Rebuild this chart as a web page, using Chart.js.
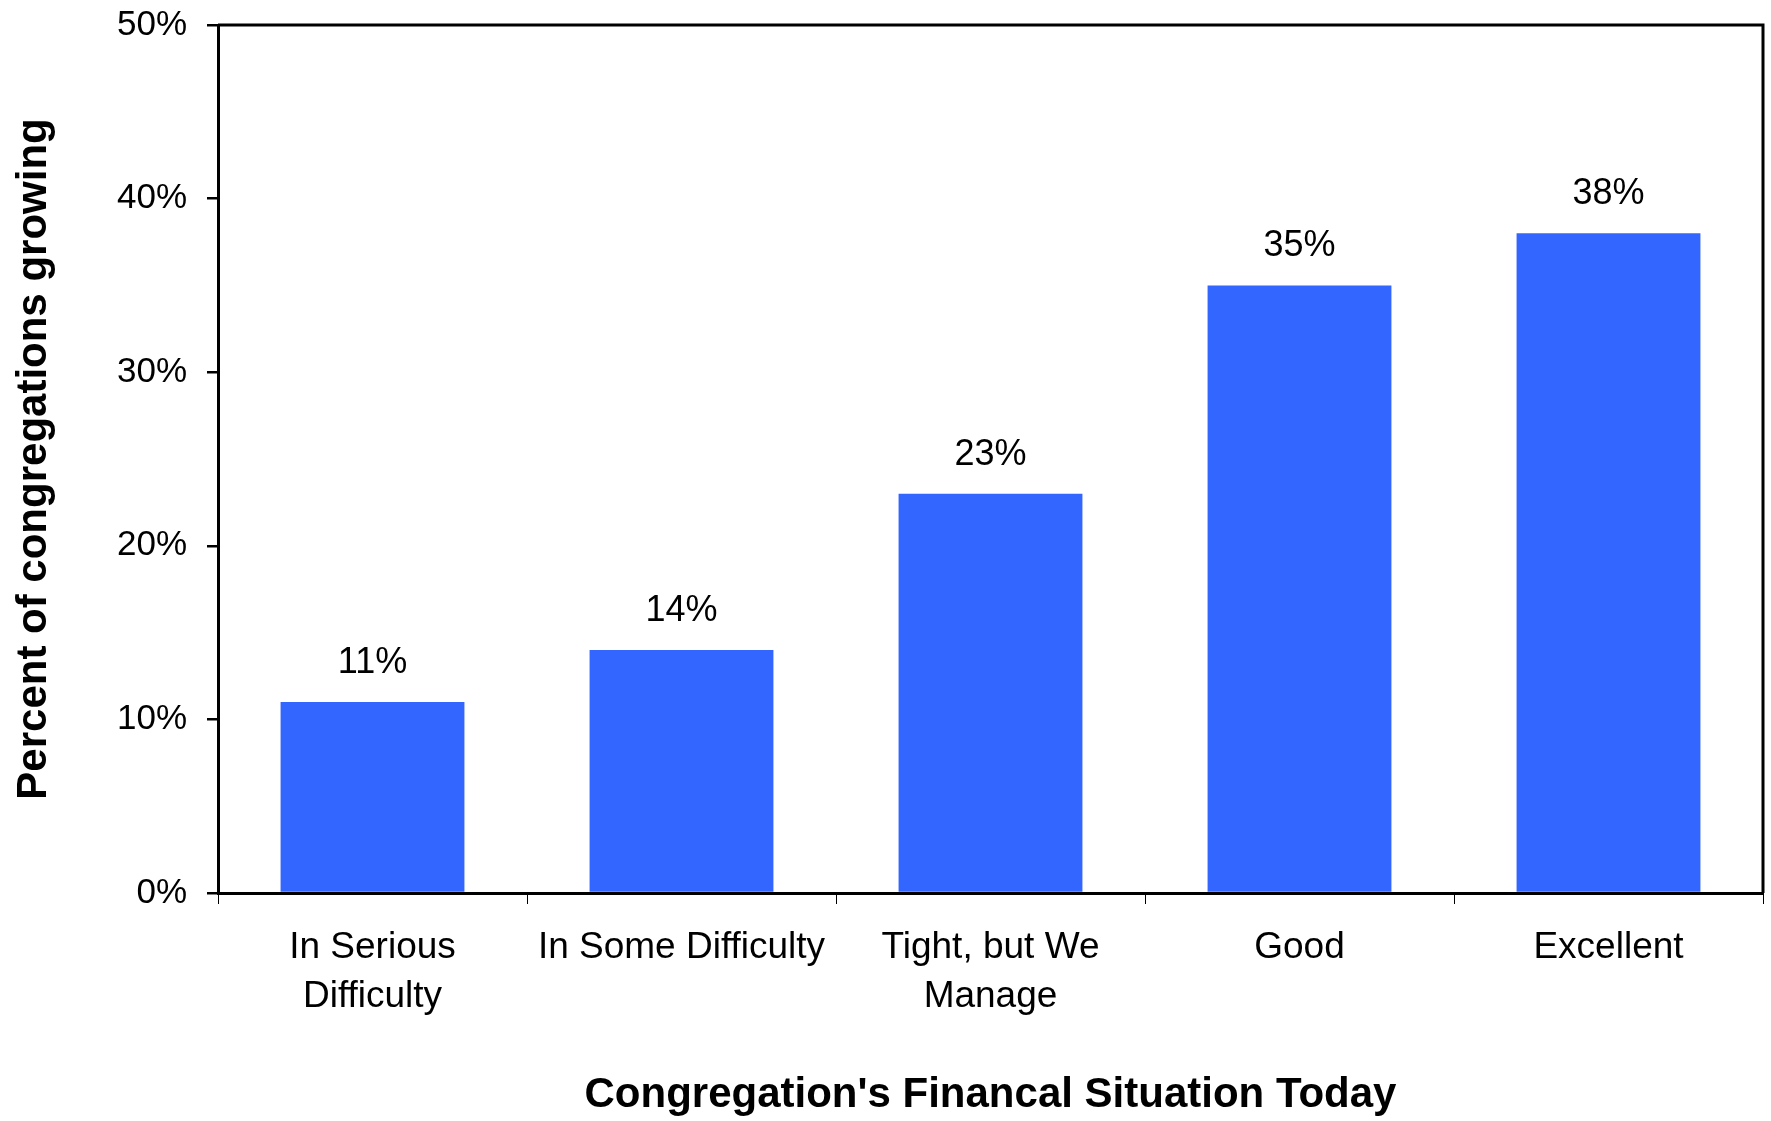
<!DOCTYPE html>
<html>
<head>
<meta charset="utf-8">
<script src="https://cdn.jsdelivr.net/npm/chart.js@4/dist/chart.umd.min.js"></script>
<style>
  html, body { margin: 0; padding: 0; background: #fff; }
  #wrap { width: 1771px; height: 1121px; }
</style>
</head>
<body>
<div id="wrap"><canvas id="growthChart" width="1771" height="1121"></canvas></div>
<script>
// ─────────────────────────────────────────────────────
// DATA
// ─────────────────────────────────────────────────────
const categories = [
  ['In Serious', 'Difficulty'],
  'In Some Difficulty',
  ['Tight, but We', 'Manage'],
  'Good',
  'Excellent'
];
const growingPct = [11, 14, 23, 35, 38];
const yMin = 0;
const yMax = 50;
const yStep = 10;

const FONT = "'Liberation Sans', Arial, sans-serif";

// ─────────────────────────────────────────────────────
// PLUGINS – frame + value labels above bars
// ─────────────────────────────────────────────────────
const framePlugin = {
  id: 'frame',
  afterDraw(chart) {
    const { ctx, chartArea: a } = chart;
    ctx.save();
    ctx.strokeStyle = '#000';
    ctx.lineWidth = 3;
    ctx.beginPath();
    ctx.moveTo(a.left, a.top);
    ctx.lineTo(a.right, a.top);
    ctx.lineTo(a.right, a.bottom);
    ctx.stroke();
    ctx.restore();
  }
};

const valueLabels = {
  id: 'valueLabels',
  afterDatasetsDraw(chart) {
    const { ctx } = chart;
    const meta = chart.getDatasetMeta(0);
    ctx.save();
    ctx.fillStyle = '#000';
    ctx.font = `36px ${FONT}`;
    ctx.textAlign = 'center';
    ctx.textBaseline = 'alphabetic';
    meta.data.forEach((bar, i) => {
      ctx.fillText(growingPct[i] + '%', bar.x, bar.y - 29);
    });
    ctx.restore();
  }
};

// ─────────────────────────────────────────────────────
// CHART
// ─────────────────────────────────────────────────────
const ctx = document.getElementById('growthChart').getContext('2d');
new Chart(ctx, {
  type: 'bar',
  data: {
    labels: categories,
    datasets: [{
      data: growingPct,
      backgroundColor: '#3366FF',
      borderWidth: 0,
      categoryPercentage: 1,
      barPercentage: 0.595
    }]
  },
  options: {
    responsive: false,
    animation: false,
    layout: { padding: { top: 25, right: 8, left: 0, bottom: 0 } },
    plugins: {
      legend: { display: false },
      tooltip: { enabled: false }
    },
    scales: {
      x: {
        afterFit(scale) { scale.height = 228; },
        grid: {
          offset: true,
          drawOnChartArea: false,
          color: '#000',
          lineWidth: 1,
          tickLength: 11
        },
        border: { color: '#000', width: 3 },
        ticks: {
          color: '#000',
          font: { family: FONT, size: 37, lineHeight: 1.31 },
          padding: 20,
          maxRotation: 0,
          autoSkip: false
        },
        title: {
          display: true,
          text: "Congregation's Financal Situation Today",
          color: '#000',
          font: { family: FONT, size: 42, weight: 'bold' },
          padding: { top: 0, bottom: 0 }
        }
      },
      y: {
        min: yMin,
        max: yMax,
        afterFit(scale) {
          scale.width = 218;
          scale.paddingTop = 0;
          scale.paddingBottom = 0;
        },
        grid: {
          drawOnChartArea: false,
          color: '#000',
          lineWidth: 2.5,
          tickLength: 11
        },
        border: { color: '#000', width: 3 },
        ticks: {
          stepSize: yStep,
          color: '#000',
          font: { family: FONT, size: 35 },
          padding: 20,
          callback: v => v + '%'
        },
        title: {
          display: true,
          text: 'Percent of congregations growing',
          color: '#000',
          font: { family: FONT, size: 42, weight: 'bold' },
          padding: { top: 9, bottom: 0 }
        }
      }
    }
  },
  plugins: [framePlugin, valueLabels]
});
</script>
</body>
</html>
